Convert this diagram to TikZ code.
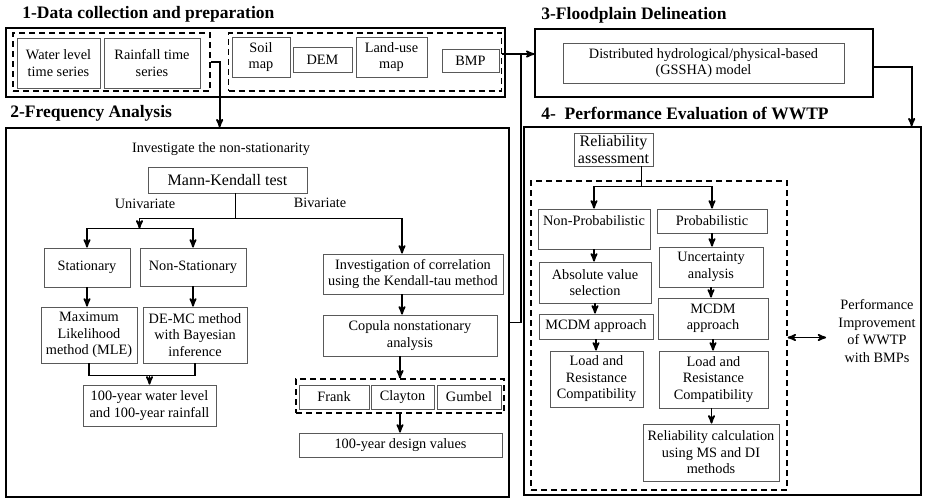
\documentclass[tikz,border=0pt]{standalone}
\usepackage{fontspec}
\setmainfont{Liberation Serif}
\usetikzlibrary{arrows,positioning}

\begin{document}
\begin{tikzpicture}[>=stealth',x=1pt,y=-1pt,
thick]
\tikzstyle{panel}=[draw,line width=1.3pt,inner sep=0pt]
\tikzstyle{dashbox}=[draw,line width=1.3pt,dash pattern=on 6pt off 4pt,inner sep=0pt]
\tikzstyle{box}=[draw=black!65,line width=0.9pt,align=center,inner sep=0pt,font=\fontsize{14.3}{16.5}\selectfont]
\tikzstyle{txt}=[align=center,inner sep=0pt,font=\fontsize{14.3}{17.5}\selectfont]
\tikzstyle{head}=[anchor=west,inner sep=0pt,font=\fontsize{17.5}{20}\selectfont\bfseries]
\tikzstyle{flow}=[line width=1.8pt]

\useasboundingbox (0,0) rectangle (925,499);

% panels and headings
\node[head]  (h1) at (22,14)  {1-Data collection and preparation};
\node[head]  (h2) at (10,113) {2-Frequency Analysis};
\node[head]  (h3) at (541,15) {3-Floodplain Delineation};
\node[head]  (h4) at (541,113) {4-~ Performance Evaluation of WWTP};
\node[panel,minimum width=499pt,minimum height=69pt]  (p1) at (255.5,62.5) {};
\node[panel,minimum width=503pt,minimum height=369pt] (p2) at (257.5,312.5) {};
\node[panel,minimum width=338pt,minimum height=68pt]  (p3) at (704,63) {};
\node[panel,minimum width=397pt,minimum height=368pt] (p4) at (722.5,311) {};

% 1 - data
\node[dashbox,minimum width=197pt,minimum height=58pt] (d1) at (111.5,62) {};
\node[dashbox,minimum width=273pt,minimum height=58pt] (d2) at (365,62) {};
\node[box,minimum width=83pt,minimum height=50pt] (water) at (58.5,63)  {Water level\\time series};
\node[box,minimum width=96pt,minimum height=50pt] (rain)  at (152,63)   {Rainfall time\\series};
\node[box,minimum width=58pt,minimum height=40pt] (soil)  at (261,57)   {Soil\\map};
\node[box,minimum width=59pt,minimum height=25pt] (dem)   at (322.5,59.5) {DEM};
\node[box,minimum width=71pt,minimum height=40pt] (land)  at (391.5,57) {Land-use\\map};
\node[box,minimum width=57pt,minimum height=23pt] (bmp)   at (470.5,60.5) {BMP};

% 3 - floodplain
\node[box,minimum width=281pt,minimum height=40pt] (gssha) at (703.5,63) {Distributed hydrological/physical-based\\(GSSHA) model};

% 2 - frequency analysis
\node[txt] (inv) at (221,149) {Investigate the non-stationarity};
\node[box,minimum width=159pt,minimum height=26pt,font=\fontsize{16}{18}\selectfont] (mk) at (227.5,180) {Mann-Kendall test};
\node[txt] (uni) at (145,204) {Univariate};
\node[txt] (biv) at (320,203) {Bivariate};
\node[box,minimum width=86pt,minimum height=39pt]  (stat)  at (87,267.5)  {Stationary};
\node[box,minimum width=106pt,minimum height=38pt] (nstat) at (193,267)   {Non-Stationary};
\node[box,minimum width=96pt,minimum height=56pt]  (mle)   at (89,335)    {Maximum\\Likelihood\\method (MLE)};
\node[box,minimum width=104pt,minimum height=56pt] (demc)  at (195,335)   {DE-MC method\\with Bayesian\\inference};
\node[box,minimum width=133pt,minimum height=41pt] (wl)    at (149.5,405.5) {100-year water level\\and 100-year rainfall};
\node[box,minimum width=180pt,minimum height=40pt] (corr)  at (413,274)   {Investigation of correlation\\using the Kendall-tau method};
\node[box,minimum width=174pt,minimum height=41pt] (copula) at (410,335.5) {Copula nonstationary\\analysis};
\node[dashbox,minimum width=208pt,minimum height=34pt] (d3) at (400,396) {};
\node[box,minimum width=70pt,minimum height=24pt] (frank)   at (334,397)   {Frank};
\node[box,minimum width=63pt,minimum height=24pt] (clayton) at (402.5,397) {Clayton};
\node[box,minimum width=64pt,minimum height=24pt] (gumbel)  at (469,397)   {Gumbel};
\node[box,minimum width=203pt,minimum height=24pt] (design) at (400.5,445) {100-year design values};

% 4 - performance evaluation
\node[box,minimum width=79pt,minimum height=33pt,font=\fontsize{16}{17}\selectfont] (rela) at (613.5,149.5) {Reliability\\assessment};
\node[dashbox,minimum width=256pt,minimum height=309pt] (d4) at (659,335.5) {};
\node[box,minimum width=112pt,minimum height=40pt] (nonp)  at (594,229)   {Non-Probabilistic\\~};
\node[box,minimum width=110pt,minimum height=24pt] (prob)  at (712,221)   {Probabilistic};
\node[box,minimum width=112pt,minimum height=41pt] (abs)   at (595,282.5) {Absolute value\\selection};
\node[box,minimum width=104pt,minimum height=40pt] (unc)   at (711,267)   {Uncertainty\\analysis};
\node[box,minimum width=114pt,minimum height=25pt] (mcdmn) at (596,326.5) {MCDM approach};
\node[box,minimum width=110pt,minimum height=41pt] (mcdmp) at (713,318.5) {MCDM\\approach};
\node[box,minimum width=93pt,minimum height=56pt]  (loadn) at (596.5,379) {Load and\\Resistance\\Compatibility};
\node[box,minimum width=109pt,minimum height=57pt] (loadp) at (713.5,379.5) {Load and\\Resistance\\Compatibility};
\node[box,minimum width=136pt,minimum height=57pt] (relc)  at (711,452.5) {Reliability calculation\\using MS and DI\\methods};
\node[txt] (perf) at (877,331) {Performance\\Improvement\\of WWTP\\with BMPs};

% connectors between panels
\draw[flow,->] (d1.east) -- ++(9,0) coordinate (j1) -- (j1 |- p2.north);
\draw[flow] ([yshift=8pt]d2.east) -- ++(19,0) coordinate (j2);
\draw[flow,->] (j2) -- (j2 -| p3.west);
\draw[flow] (j2) |- ([yshift=-10pt]p2.east);
\draw[flow,->] ([yshift=-4pt]p3.east) -- ++(38,0) coordinate (j3) -- (j3 |- p4.north);

% frequency analysis flow
\draw[flow] ([xshift=8pt]mk.south) -- ++(0,25) coordinate (sp);
\draw[flow,->] (sp) -| ([xshift=-11pt]corr.north);
\draw[flow,->] (sp) -- ++(-96,0) -- ++(0,10) coordinate (uv);
\draw[flow,->] (uv) -| (stat.north);
\draw[flow,->] (uv) -| (nstat.north);
\draw[flow,->] (stat.south) -- (stat.south |- mle.north);
\draw[flow,->] (nstat.south) -- (nstat.south |- demc.north);
\draw[flow] (mle.south) -- ++(0,12) coordinate (m1) -| (demc.south);
\draw[flow,->] (m1 -| wl.north) -- (wl.north);
\draw[flow,->] ([xshift=-11pt]corr.south) -- ([xshift=-11pt]corr.south |- copula.north);
\draw[flow,->] (d3.north |- copula.south) -- (d3.north);
\draw[flow,->] (d3.south) -- (d3.south |- design.north);

% reliability flow
\draw[flow] ([xshift=28pt]rela.south) -- ++(0,20) coordinate (rs);
\draw[flow,->] (rs) -| (nonp.north);
\draw[flow,->] (rs) -| (prob.north);
\draw[flow,->] (nonp.south) -- (nonp.south |- abs.north);
\draw[flow,->] (abs.south) -- (abs.south |- mcdmn.north);
\draw[flow,->] (mcdmn.south) -- (mcdmn.south |- loadn.north);
\draw[flow,->] (prob.south) -- (prob.south |- unc.north);
\draw[flow,->] (unc.south) -- (unc.south |- mcdmp.north);
\draw[flow,->] (mcdmp.south) -- (mcdmp.south |- loadp.north);
\draw[flow,->] ([xshift=-2pt]loadp.south) -- ([xshift=-2pt]loadp.south |- relc.north);
\draw[flow,<->] ([yshift=-2pt]d4.east) -- ([yshift=-2pt,xshift=-12pt]d4.east -| perf.west);
\end{tikzpicture}
\end{document}
